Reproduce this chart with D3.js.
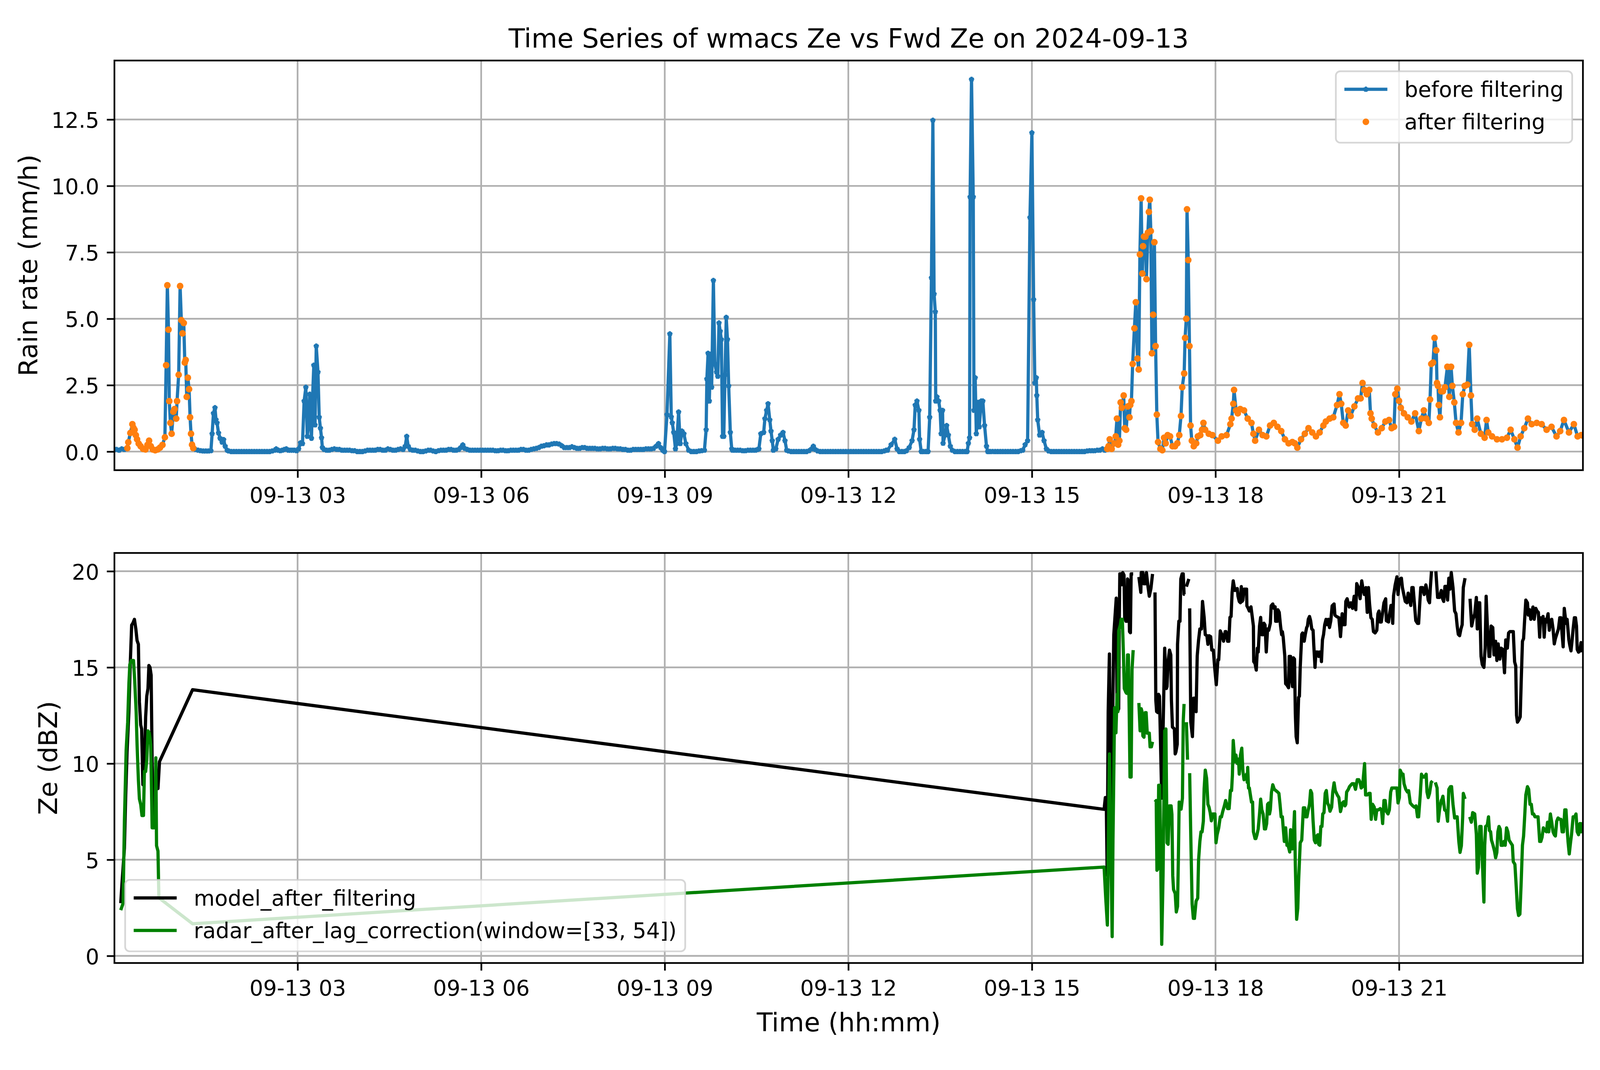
<!DOCTYPE html>
<html><head><meta charset="utf-8">
<script src="https://cdn.jsdelivr.net/npm/d3@7"></script>
<style>html,body{margin:0;padding:0;background:#fff;overflow:hidden;} svg{display:block;}</style>
</head><body>
<svg id="chart"></svg>
<script>
// ---------------- data ----------------
const titleText = "Time Series of wmacs Ze vs Fwd Ze on 2024-09-13";
const xTickHours = [3, 6, 9, 12, 15, 18, 21];
const rainTicks = [0, 2.5, 5, 7.5, 10, 12.5];
const zeTicks = [0, 5, 10, 15, 20];
const rainLabels = ["before filtering", "after filtering"];
const zeLabels = ["model_after_filtering", "radar_after_lag_correction(window=[33, 54])"];
// minutes after 00:00 where the filtered (after filtering) samples exist
const afterFilterWindows = [[13, 78], [972, 1441]];

// rain rate before filtering: [minute of day, mm/h]
const rainBefore = [
[0,0.1],[2.5,0.08],[5,0.05],[7.5,0.1],[10,0.08],[12,0.1],
[13.1,0.13],[14,0.35],[16,0.7],[18,1.03],[19,0.9],[20.2,0.82],[21.4,0.62],[22.6,0.46],[24.2,0.3],[26.1,0.2],[28.5,0.1],[30.9,0.08],[32.8,0.25],[34.4,0.41],[36.1,0.2],[38,0.08],[40.4,0.05],[42.8,0.08],[45.1,0.15],[47.5,0.25],[49.9,0.54],
[51.1,3.25],[52.3,6.26],[53.4,4.59],[54.2,1.9],[55.3,1.08],[56.5,0.67],[58.2,1.5],[59.4,1.6],[61,1.24],[61.8,1.9],[63.4,2.89],[64.8,6.23],[66,4.95],[67.2,4.45],[68.4,4.84],[69.4,3.35],[70.3,3.45],[71.3,2.06],[72.4,2.78],[73.6,2.35],[74.6,1.29],[75.5,0.67],[76.5,0.26],[77.7,0.13],
[80,0.08],[82.5,0.05],[85,0.03],[87.5,0.02],[90,0.02],[92.5,0.02],[95,0.03],
[96.2,0.67],[97.5,1.44],[99,1.65],[100,1.2],[101,1.08],[102.5,0.7],[104,0.5],[106,0.35],[107.5,0.45],[109,0.2],[111,0.05],
[112.5,0.02],[115,0],[117.5,0],[120,0],[122.5,0],[125,0],[127.5,0],[130,0],[132.5,0],[135,0],[137.5,0],[140,0],[142.5,0],[145,0],[147.5,0],[150,0],[152.5,0],[155,0.02],[157.5,0.05],
[159,0.1],[161,0.05],[163,0.03],[165,0.05],[167,0.08],[169,0.1],[171,0.05],[173,0.05],[175,0.05],[177,0.05],[179,0.03],[181,0.1],
[182.9,0.33],[184.8,0.3],[186.4,1.9],[188.1,2.42],[189.5,0.57],[190.7,1.0],[191.9,2.16],[193.6,0.5],[194.8,2.16],[195.9,3.25],[197.1,1.0],[198.3,3.97],[200,2.99],[201.2,1.29],[202.4,0.88],[203.5,0.52],[204.3,0.15],
[206,0.08],[208.5,0.05],[211,0.05],[213.5,0.08],[216,0.1],[218.5,0.08],[221,0.08],[223.5,0.05],[226,0.05],[228.5,0.05],[231,0.05],[233.5,0.03],[236,0.03],[238.5,0],[241,0],[243.5,0],[246,0.02],[248.5,0.05],[251,0.05],[253.5,0.05],[256,0.05],[258.5,0.08],[261,0.08],[263.5,0.05],[266,0.05],[268.5,0.1],[271,0.08],[273.5,0.05],[276,0.05],[278.5,0.08],[281,0.1],[283.5,0.08],[285.5,0.2],[287,0.57],[288.5,0.2],[290.5,0.08],[293,0.05],[295.5,0.05],[298,0.02],[300.5,0],[303,0],[305.5,0.02],[308,0.05],[310.5,0.05],[313,0.02],[315.5,0],[318,0.03],[320.5,0.05],[323,0.05],[325.5,0.05],[328,0.08],[330.5,0.08],[333,0.05],[335.5,0.05],[338,0.08],[340,0.15],[342,0.25],[344,0.12],[346.5,0.08],[349,0.05],[351.5,0.05],[354,0.05],[356.5,0.05],[359,0.05],
[361.5,0.05],[364,0.05],[366.5,0.05],[369,0.05],[371.5,0.05],[374,0.03],[376.5,0.03],[379,0.05],[381.5,0.05],[384,0.03],[386.5,0.03],[389,0.05],[391.5,0.05],[394,0.05],[396.5,0.05],[399,0.08],[401.5,0.08],[404,0.05],[406.5,0.05],[409,0.08],[411.5,0.1],[414,0.12],[416.5,0.15],[419,0.2],[421.5,0.22],[424,0.25],[426.5,0.25],[429,0.28],[431.5,0.3],[434,0.3],[436.5,0.28],[439,0.22],[441.5,0.15],[444,0.15],[446.5,0.15],[449,0.18],[451.5,0.15],[454,0.12],[456.5,0.12],[459,0.15],[461.5,0.15],[464,0.12],[466.5,0.12],[469,0.12],[471.5,0.12],[474,0.1],[476.5,0.1],[479,0.12],[481.5,0.12],[484,0.1],[486.5,0.1],[489,0.12],[491.5,0.12],[494,0.1],[496.5,0.1],[499,0.08],[501.5,0.08],[504,0.05],[506.5,0.05],[509,0.08],[511.5,0.08],[514,0.08],[516.5,0.08],[519,0.08],[521.5,0.1],[524,0.1],[526.5,0.1],[529,0.12],[531.5,0.2],[533.9,0.3],[536,0.15],[538,0.05],[539.8,0],
[542.2,1.39],[545,4.43],[546.4,1.3],[547.4,1.08],[548.8,0.72],[550.5,0.1],[551.7,0.3],[553.6,1.49],[555.2,0.3],[556.9,0.77],[558.8,0.67],[560.7,0.3],[563.5,0.05],[566,0],[568.5,0],[571,0],[573.5,0.02],[576,0.03],[578.9,0.05],
[580.6,0.82],[581.3,2.73],[582.5,3.7],[583.7,1.9],[584.9,3.66],[586,2.42],[587.7,6.44],[589.1,3.3],[590.8,2.99],[592,2.83],[593.2,4.84],[594.4,4.53],[595.5,4.22],[596.7,0.57],[597.9,0.57],[599.1,2.89],[600.3,5.05],[601.5,4.22],[602.7,2.47],[604.3,0.72],[605.7,0.1],
[606.5,0.05],[609,0.05],[611.5,0.05],[614,0.05],[616.5,0.03],[619,0.03],[621.5,0.05],[624,0.05],[626.5,0.05],[629,0.05],[631,0.08],[632.3,0.1],
[634.2,0.67],[637,0.72],[638.2,1.24],[639.9,1.55],[641.3,1.8],[643,1.19],[644.2,0.77],[645.4,0.41],[646.5,0.05],[648.9,0.1],[651.2,0.46],[653.6,0.62],[656,0.72],[657.9,0.41],[659.6,0.05],
[661.5,0.02],[664,0],[666.5,0],[669,0],[671.5,0],[674,0],[676.5,0],[679,0],[681.5,0.03],[684,0.1],[685.7,0.2],[687.5,0.08],[690,0.02],[692.5,0],[695,0],[697.5,0],[700,0],[702.5,0],[705,0],[707.5,0],[710,0],[712.5,0],[715,0],[717.5,0],[720,0],[722.5,0],[725,0],[727.5,0],[730,0],[732.5,0],[735,0],[737.5,0],[740,0],[742.5,0],[745,0],[747.5,0],[750,0],[752.5,0],[755,0.02],[757,0.05],
[758.4,0.05],[762,0.26],[765.5,0.46],[767.8,0.1],[770,0],[772.5,0],[775,0],[777,0.03],[779.7,0.15],[782.5,0.41],[784.4,0.82],[785.6,1.75],[787.3,1.9],[789.2,1.55],[789.9,0.46],[791.5,0],[793.5,0],[796,0],[798.2,0],
[799.8,1.29],[801.5,6.54],[802.9,12.47],[804.1,5.93],[805.3,5.26],[805.7,1.9],[806.9,2.06],[808.6,1.9],[810,1.55],[811,0.67],[812.4,1.55],[812.9,0.31],[814.8,0.62],[816.4,0.98],[818.1,0.62],[820,0.2],[822,0.05],[824.5,0],[827,0],[829.5,0],[832,0],[834.5,0],[836.5,0],
[837.7,0.31],[838.9,0.52],[839.4,9.58],[840.8,14.01],[842.5,9.58],[843.2,1.55],[844.4,2.78],[845.5,0.67],[847.2,1.85],[848.4,0.93],[850.3,1.9],[851.9,1.9],[853.6,0.98],[855.5,0.2],[856.7,0],
[859,0],[861.5,0],[864,0],[866.5,0],[869,0],[871.5,0],[874,0],[876.5,0],[879,0],[881.5,0],[884,0],[886.5,0],[889,0.03],[891,0.05],
[893.4,0.26],[895.8,0.41],[898.1,8.81],[900,12.0],[901.7,5.72],[902.9,2.58],[904.3,2.78],[904.8,2.11],[905.7,1.19],[907.6,0.62],[910,0.72],[911.9,0.41],[914.2,0.1],
[916.5,0.02],[919,0],[921.5,0],[924,0],[926.5,0],[929,0],[931.5,0],[934,0],[936.5,0],[939,0],[941.5,0],[944,0],[946.5,0],[949,0],[951.5,0],[954,0.02],[956.5,0.03],[959,0.03],[961.5,0.03],[964,0.05],[966.5,0.05],[969.2,0.1],[971.5,0.05],
[973.9,0.1],[975.1,0.2],[976.3,0.46],[978.2,0.1],[981,0.31],[982.2,0.57],[983.4,1.24],[984.6,0.26],[985.8,0.41],[987,1.85],[988.2,1.65],[990,2.11],[991,0.88],[992.4,0.82],[994.1,1.7],[995.7,1.29],[996.4,1.75],[997.6,1.9],[998.8,3.3],[1000.5,4.64],[1001.9,5.62],[1003.5,3.5],[1004.7,3.09],[1005.9,7.42],[1007.1,9.53],[1008.3,6.7],[1009,7.73],[1009.9,8.09],[1011.3,8.09],[1012.3,6.49],[1013.7,8.24],[1014.7,9.02],[1015.6,9.48],[1016.6,8.3],[1017.7,3.7],[1018.9,5.15],[1020.1,7.88],[1021.3,3.97],[1022.5,1.39],[1023.7,0.36],[1026,0.1],[1027.9,0.05],[1029.6,0.52],[1031.2,0.31],[1033.1,0.62],[1035.5,0.57],[1037.9,0.2],[1040.3,0.2],[1042.6,0.31],[1044.5,0.62],[1046.2,1.34],[1047.4,2.42],[1049.3,2.94],[1050.2,4.28],[1051.4,5.0],[1052.1,9.12],[1053.3,7.21],[1054.5,3.97],[1055.6,0.98],[1056.8,0.41],[1058.7,0.2],[1061.1,0.31],[1062.7,0.57],[1065.1,0.62],[1066.8,0.82],[1068.2,1.08],[1069.9,0.82],[1073.4,0.67],[1077,0.62],
[1082.4,0.41],[1086.1,0.57],[1090.9,0.62],[1094.6,1.03],[1095.8,1.24],[1097.5,1.8],[1098.2,2.32],[1100.2,1.55],[1101.9,1.44],[1104.3,1.6],[1108,1.55],[1111.6,1.24],[1115.3,1.08],[1117.2,0.67],[1118.9,0.41],[1122.6,0.82],[1126.2,0.62],[1129.9,0.57],[1133.5,0.98],[1137.2,1.08],[1140.8,0.93],[1144.5,0.77],[1148.1,0.46],[1151.7,0.31],[1155.4,0.36],[1157.8,0.31],[1160.3,0.15],[1163.9,0.46],[1167.6,0.67],[1171.2,0.88],[1174.9,0.72],[1178.5,0.57],[1182.1,0.72],[1185.8,0.98],[1188.2,1.13],[1191.9,1.24],[1195.5,1.29],[1199.2,1.75],[1201.6,2.16],[1203.3,1.8],[1205.3,1.08],[1207.7,0.98],[1210.1,1.55],[1212.5,1.34],[1216.2,1.7],[1219.8,2.0],[1222.3,2.0],[1224.2,2.58],[1225.9,2.32],[1228.4,2.16],[1230.8,2.32],[1232,1.44],[1233.2,1.24],[1235.7,0.98],[1239.3,0.72],[1243,0.88],[1246.6,1.13],[1250.2,1.19],[1252.7,0.88],[1255.1,0.93],[1256.3,2.16],[1258.3,2.37],[1260,1.91],[1261.7,1.65],[1264.8,1.44],[1268.5,1.29],[1272.1,1.13],[1275.8,1.44],[1279.4,0.77],[1281.9,1.24],[1284.3,1.55],[1286.7,1.24],[1289.2,1.08],[1290.4,1.96],[1291.6,3.3],[1293.3,3.35],[1294.8,4.28],[1296.5,3.81],[1297.2,2.58],[1298.2,2.47],[1298.9,1.75],[1300.1,1.29],[1301.3,2.27],[1303,2.27],[1305,2.42],[1307.4,3.19],[1309.3,2.06],[1311,3.19],[1312.3,2.47],[1314.2,1.85],[1315.9,1.08],[1318.3,0.72],[1320.8,1.08],[1322.5,2.16],[1324.4,2.47],[1326.9,2.52],[1328.8,4.02],[1330.5,2.11],[1331.7,1.03],[1334.2,0.82],[1336.6,1.24],[1340.2,0.67],[1343.9,0.52],[1345.8,1.19],[1347.5,0.72],[1351.2,0.57],[1356,0.46],[1360.9,0.46],[1365.8,0.52],[1369.4,0.82],[1373.1,0.46],[1376.2,0.15],[1379.2,0.57],[1382.8,0.88],[1386.4,1.24],[1390.1,1.03],[1395,1.08],[1399.8,1.03],[1404.7,0.82],[1409.5,0.93],[1414.4,0.57],[1418,0.77],[1421.7,1.19],[1426.6,0.72],[1431.4,1.03],[1435.1,0.57],[1438.7,0.62],[1440.2,0.6]
];

// model Ze (dBZ): [minute, value]; null = missing
const modelZe = [
[6.6,2.74],[7.8,3.74],[10.2,5.6],[11.4,8.2],[12.8,10.6],[14.6,12.7],[16,15.3],[17.3,17.2],[18.5,17.3],[20,17.5],[21.4,17.0],[22.6,16.4],[23.9,16.2],[24.9,13.2],[26.2,12.0],[27.1,11.8],[28.3,8.9],[29.8,9.87],[31,12.4],[32.1,13.5],[33.3,13.9],[34.2,15.1],[35.3,15.0],[36.4,14.6],[37.4,10.0],[38.7,6.95],[39.9,6.8],[41.3,8.9],[43.1,8.7],[44.6,10.1],
[77,13.84],
[970.8,7.62],[972,8.23],[972.9,8.23],[973.8,4.2],[974.8,12.7],[976,15.7],[977.6,6.0],[980.3,16.7],[982.7,18.6],[983.5,13.0],[984,12.7],[985.1,12.85],[985.6,17.0],[986.2,19.86],[987.5,19.86],[988.3,19.3],[989.1,19.93],[990.3,19.8],[991,17.6],[992.2,17.4],[993,17.4],[993.8,19.6],[994.6,19.5],[995.7,16.86],[996.6,16.8],[997.3,19.86],[999.3,19.86],
[1001.5,null],
[1004.9,19.7],[1006.8,18.9],[1007.2,19.93],[1008.8,19.93],[1009.6,19.35],[1011.2,19.35],[1012.3,19.93],[1013.6,19.3],[1015.1,18.7],[1016.7,19.1],[1018.3,19.86],
[1019.5,null],
[1020.7,18.9],[1021.5,13.3],[1022.3,12.7],[1023.5,12.65],[1024.2,13.6],[1025.1,13.5],[1027.3,8.2],[1030.2,16.0],[1031.8,13.9],[1032.5,14.0],[1033.6,15.3],[1034.9,15.9],[1036.2,15.65],[1036.8,13.3],[1037.8,11.9],[1039.7,11.8],[1040.5,10.5],[1041.2,10.6],[1042.5,11.0],[1042.8,16.2],[1044.1,17.4],[1045.2,17.4],[1046,19.6],[1047.3,19.86],[1048.4,19.86],[1049.2,18.8],[1049.9,18.8],
[1050.7,null],
[1051.5,19.2],[1053.9,19.6],
[1054.3,null],
[1054.7,18.07],[1055.8,12.15],[1057.4,11.4],[1058.6,13.4],[1060.2,13.4],[1061,12.7],[1062.1,15.6],[1063.4,16.4],[1064.7,17.0],[1066.2,17.0],[1067.3,18.43],[1068.9,17.6],[1070,16.7],[1071.6,16.65],[1072.6,16.2],[1073.7,16.65],[1075.3,16.6],[1076.4,15.9],[1077.9,15.9],[1079.2,15.0],[1080.8,14.1],[1082.4,15.4],[1083.2,15.4],[1084.7,16.9],[1086.3,16.7],[1087.9,16.36],[1089.5,16.86],[1090.3,16.86],[1091.9,16.36],[1093.1,16.36],[1094.2,17.6],[1095.3,17.65],[1096.3,18.9],[1097.4,19.5],[1099,19.0],[1100.1,19.07],[1101.4,19.1],[1102.1,18.7],[1103.3,18.43],[1104.5,18.36],[1105.3,19.2],[1106.1,18.43],[1106.9,18.5],[1108,19.07],[1109.3,19.07],[1110.5,19.07],[1110.8,18.2],[1112.1,18.07],[1113.2,17.93],[1114.8,18.15],[1115.9,17.7],[1117.2,17.15],[1117.5,15.3],[1118.8,15.2],[1120,14.86],[1121.1,16.0],[1121.9,15.8],[1123.2,17.15],[1124.3,17.6],[1125.4,16.7],[1126.7,16.7],[1127.5,17.3],[1128.6,17.2],[1129.8,15.8],[1131.1,17.0],[1132.2,16.93],[1133.8,17.3],[1134.6,18.2],[1136.2,18.3],[1137.4,18.07],[1138.5,18.15],[1139,17.4],[1140.6,17.4],[1141.2,18.0],[1142.5,17.86],[1143.8,17.15],[1144.9,16.7],[1145.6,16.86],[1146.4,16.57],[1148,15.57],[1148.8,14.15],[1150.1,14.08],[1151.7,13.94],[1152.3,15.57],[1153.6,15.57],[1154.4,14.44],[1155.5,14.0],[1156.4,15.5],[1157.5,15.43],[1158.3,12.6],[1159.1,11.4],[1160.2,11.08],[1161.5,13.44],[1162.3,13.5],[1163.1,15.0],[1164.6,16.72],[1165.4,16.79],[1167,16.36],[1168.1,16.72],[1169.4,17.07],[1170.2,17.15],[1171,17.5],[1172.2,17.65],[1173.3,17.43],[1174.4,17.0],[1175.7,16.93],[1176.4,16.15],[1177.6,15.0],[1178.5,15.8],[1180.1,15.8],[1181.2,15.57],[1182,15.8],[1183.3,15.8],[1183.9,15.3],[1184.9,16.43],[1186,16.72],[1187.1,17.22],[1188.4,17.5],[1189.6,17.22],[1190.7,17.5],[1191.8,17.07],[1193.1,17.43],[1194.4,18.2],[1196.3,18.3],[1197.1,17.72],[1198.6,17.65],[1201,17.58],[1202.6,16.6],
[1204.2,17.79],[1205.3,17.22],[1207,17.22],[1207.8,18.43],[1209.1,18.57],[1211.1,18.14],[1212.7,18.36],[1214.4,18.07],[1216,18.7],[1217.6,18.0],[1218.5,19.36],[1220.1,19.15],[1221.8,18.57],[1223.4,19.5],[1224.5,19.15],[1225.9,18.79],[1227.5,19.15],[1228.8,17.86],[1230,19.15],[1231.1,18.29],[1232.4,17.58],[1233.7,17.5],[1234.9,16.86],[1236.5,16.79],[1238.2,16.93],[1239.3,17.79],[1240.3,17.93],[1241.5,17.36],[1242.6,17.36],[1243.9,17.86],[1245.2,18.36],[1246.9,18.57],[1247.5,17.43],[1249.7,17.36],[1250.5,17.72],[1252.1,18.22],[1252.9,18.22],[1253.8,17.29],[1254.6,18.72],[1256.2,19.29],[1257.9,19.71],[1259,18.79],[1260.3,19.57],[1262.3,19.64],[1263.3,19.15],[1264.4,18.86],[1266.1,18.43],[1267.7,18.36],[1268.9,18.86],[1270.2,18.5],[1271.5,18.22],[1272.6,19.15],[1273.8,19.15],[1275.1,18.29],[1276.4,17.43],[1278.1,17.29],[1279.2,17.29],[1280,18.07],[1281.3,19.15],[1283,19.15],[1284.6,18.79],[1286.3,19.29],[1287.4,19.0],[1288.6,18.5],[1289.9,18.36],[1290.7,19.15],[1291.8,20.0],
[1294,null],
[1296.1,20.0],[1297.8,18.64],[1299.7,18.64],[1301.4,19.0],[1302.7,18.57],[1303.8,18.43],[1305,19.21],[1306.3,19.21],[1307.6,18.5],[1308.8,19.64],[1309.9,19.07],[1311.2,19.93],[1312.9,19.15],[1314.5,17.93],[1315.8,17.79],[1317,17.15],[1318.1,16.72],[1319.4,16.65],[1320.7,17.0],[1321.9,17.22],[1323,19.15],[1324.7,19.64],
[1327,null],
[1329.6,18.57],[1331.2,17.15],[1332.6,17.5],[1334.2,17.79],[1335.8,18.64],[1336.7,17.0],[1337.8,18.36],[1339.1,18.36],[1340.4,15.57],[1341.6,15.15],[1343.2,15.0],[1344.4,16.0],[1345.4,18.7],[1346.5,17.29],[1348.2,15.57],[1349,15.57],[1350.3,17.15],[1351.9,17.07],[1353.1,15.65],[1354.7,16.36],[1355.9,15.36],[1357.2,16.22],[1358.8,15.43],[1360.1,16.0],[1361.8,15.93],[1363.4,14.72],[1364.6,16.43],[1366.2,16.0],[1367.4,16.79],[1368.7,16.86],[1370.3,16.86],[1372,16.86],[1373.3,15.29],[1374.4,15.08],[1375.2,12.51],[1376.1,12.15],[1377.7,12.29],[1378.8,12.43],[1379.8,14.3],[1381,16.36],[1382.1,16.5],[1383.1,17.43],[1384.3,18.5],[1385.9,18.36],[1386.7,17.72],[1388,18.0],[1389.2,17.5],[1390.3,17.86],[1391.3,18.14],[1392.5,17.5],[1394.1,18.07],[1395.3,17.93],[1396.6,17.86],[1397.9,16.57],[1398.6,17.58],[1399.9,17.43],[1401.2,17.65],[1402.3,16.57],[1403.5,17.5],[1404.5,17.36],[1406.1,17.79],[1407.3,16.93],[1408.4,17.43],[1409.7,17.5],[1411,17.0],[1412.2,16.22],[1413.3,16.5],[1414.6,16.72],[1416.3,17.0],[1417.6,17.58],[1418.7,17.58],[1419.9,16.72],[1420.9,16.07],[1422,18.07],[1423.7,17.29],[1424.8,17.5],[1425.8,16.86],[1426.5,16.43],[1427.4,16.15],[1428.6,15.86],[1429.7,16.43],[1430.7,17.0],[1431.9,17.58],[1433,17.58],[1434,17.15],[1434.7,15.93],[1436,15.79],[1437.3,15.86],[1438.4,16.29],[1439.6,15.79]
];

// radar Ze after lag correction (dBZ): [minute, value]; null = missing
const radarZe = [
[6.6,2.38],[8.9,2.74],[10.2,7.0],[11,8.7],[11.9,10.7],[13.4,12.15],[14.6,14.15],[15.5,15.15],[16.9,15.36],[19.1,15.36],[20.3,14.3],[21.7,12.7],[22.6,11.0],[23.9,9.16],[24.9,8.16],[26.2,7.87],[27.4,7.3],[28.9,7.3],[29.8,9.59],[31,9.59],[32.1,10.16],[33.3,11.7],[34.6,11.6],[36,11.0],[37.4,6.66],[39.2,6.66],[40.3,6.9],[41,10.3],[41.7,5.73],[43.1,5.45],[44,3.02],
[77,1.67],
[970.8,4.62],[972.4,3.0],[974,1.6],[976,10.5],[978.7,1.0],[979.5,6.0],[981.1,12.9],[982.4,11.6],[983.5,13.6],[984.3,12.7],[985.1,16.9],[986.7,17.2],[987.5,17.5],[988.7,17.5],[989.8,15.6],[990.6,13.9],[992.2,13.7],[993,13.65],[993.8,15.65],[994.6,15.65],[995.4,12.7],[996.2,9.3],[997.3,9.3],[998.2,14.9],[999.3,15.9],
[1001.5,null],
[1004.9,13.15],[1006.1,11.7],[1007.2,12.85],[1008,12.7],[1008.8,11.44],[1009.9,11.37],[1011.2,12.65],[1012,12.65],[1013.1,11.58],[1014.3,11.58],[1015.1,11.58],[1015.9,10.87],[1017.2,10.87],[1018.3,11.13],
[1019.5,null],
[1020.7,8.0],[1021.9,8.08],[1022.6,4.45],[1023.5,4.52],[1024.3,8.87],[1025.4,8.87],[1027.3,0.6],[1028.6,4.17],[1030.2,11.7],[1031.4,11.8],[1032.5,5.88],[1033.6,5.8],[1034.9,7.8],[1036.5,7.8],[1037.3,7.36],[1038.1,4.17],[1038.9,3.45],[1040.5,3.24],[1041.6,2.28],[1042.8,2.57],[1043.6,5.0],[1044.4,8.0],[1045.2,7.7],[1046.3,7.63],[1047.6,8.2],[1048.4,12.2],[1049.2,13.1],
[1050.4,null],
[1051.5,12.15],[1052.6,10.2],
[1053.6,null],
[1054.7,9.5],[1055.8,6.2],[1057.1,2.7],[1058.3,1.95],[1059.4,1.95],[1061,2.85],[1062.6,3.0],[1063.4,4.95],[1064.7,5.95],[1065.8,6.45],[1066.9,6.45],[1068.1,7.0],[1068.9,8.7],[1070,9.66],[1071.3,9.23],[1072.6,7.88],[1073.7,7.73],[1074.8,7.45],[1076,7.02],[1077.3,7.38],[1078.4,7.38],[1079.5,7.38],[1080.5,5.88],[1081.6,6.3],[1083.2,6.66],[1084.7,7.23],[1085.9,7.23],[1087.1,7.5],[1088.7,7.8],[1090,8.08],[1091.9,7.66],[1093.4,7.66],[1094.7,8.6],[1095.8,8.6],[1096.6,9.4],[1097.4,11.2],[1099,10.09],[1100.1,10.44],[1101.4,10.0],[1102.6,10.23],[1103.3,9.45],[1104.5,10.44],[1105.8,10.8],[1106.9,9.6],[1108,9.16],[1109.3,9.23],[1110.5,9.45],[1111.2,9.02],[1111.6,9.8],[1112.4,8.73],[1113.2,8.73],[1114,8.45],[1115.3,8.0],[1116.4,8.0],[1117.2,6.45],[1118.8,6.1],[1119.6,6.1],[1120.7,6.3],[1121.9,6.6],[1123.2,7.38],[1124.3,8.15],[1125.4,7.6],[1126.7,7.38],[1128,6.6],[1129.1,6.6],[1130.2,6.88],[1131.1,7.88],[1132.2,7.95],[1133,7.38],[1133.8,7.6],[1134.9,8.5],[1136.2,8.9],[1137.7,8.66],[1139.3,8.59],[1140.9,8.52],[1142.2,8.45],[1143.3,7.88],[1144.4,7.23],[1145.6,7.23],[1146.4,6.66],[1147.5,5.95],[1148.8,6.66],[1150.1,5.75],[1151.2,5.75],[1152.8,5.4],[1153.6,6.56],[1154.4,6.06],[1155.2,5.56],[1156.4,6.28],[1157.5,7.5],[1158.3,4.71],[1159.6,1.9],[1160.7,2.47],[1161.5,3.88],[1163.1,5.88],[1164.6,6.02],[1166.2,7.7],[1167.5,7.7],[1168.6,7.23],[1169.7,7.23],[1170.7,7.52],[1172.2,7.88],[1173.3,8.6],[1174.4,8.45],[1175.7,7.02],[1176.9,6.02],[1178.1,5.88],[1179.2,6.23],[1180.5,6.3],[1181.2,5.8],[1182.3,5.75],[1183.3,6.73],[1184.4,6.73],[1185.2,7.38],[1186.4,7.45],[1187.6,8.45],[1188.7,8.6],[1189.9,7.95],[1191.2,7.8],[1192.3,7.52],[1193.9,7.73],[1195,8.52],[1196.3,9.0],[1197.5,8.59],[1199.4,8.37],[1201,8.23],[1202.6,7.5],
[1204.5,7.95],[1205.8,8.02],[1207,7.8],[1207.8,7.88],[1208.6,8.52],[1210.3,8.66],[1211.4,8.8],[1212.7,8.88],[1214,8.95],[1215.7,8.95],[1217.3,8.66],[1219,9.16],[1220.6,9.16],[1221.8,9.02],[1222.9,8.73],[1224.2,8.8],[1226.2,10.0],[1227.2,8.37],[1228.8,8.37],[1230.5,8.45],[1231.6,8.45],[1232.7,7.1],[1234.1,7.88],[1235.7,7.73],[1237,7.1],[1238.2,7.59],[1239.8,7.59],[1241.5,7.66],[1242.8,7.59],[1243.9,6.88],[1245.2,8.08],[1246.4,8.08],[1247.5,7.52],[1249.2,7.38],[1250.5,7.59],[1251.8,8.52],[1252.9,8.73],[1254.6,8.73],[1256.2,8.73],[1257.9,8.73],[1259,7.95],[1260.3,8.23],[1261.1,9.66],[1262.8,9.45],[1263.9,9.45],[1264.9,8.95],[1266.6,8.66],[1268.2,8.52],[1269.4,8.59],[1271,7.95],[1272.1,7.88],[1273.5,7.8],[1275.1,7.73],[1276.7,7.8],[1278.1,7.23],[1279.2,7.23],[1280.8,8.37],[1282,9.45],[1283.3,9.3],[1285,9.3],[1286.6,9.45],[1287.4,8.52],[1288.6,8.23],[1289.9,8.45],[1291.5,9.02],[1292.8,9.1],
[1294,null],
[1295.6,9.02],[1297.3,8.73],[1298.4,7.0],[1299.7,7.59],[1301.4,8.08],[1302.2,8.16],[1303,8.3],[1304.7,7.59],[1306.3,7.52],[1307.6,7.0],[1308.8,8.66],[1310.4,8.8],[1311.5,8.8],[1312.9,7.88],[1314.5,7.17],[1315.8,7.23],[1317,7.23],[1318.6,5.95],[1319.8,5.38],[1321.1,5.73],[1322.4,7.23],[1323,8.45],[1324.7,8.16],
[1327,null],
[1329.3,7.23],[1330.9,6.95],[1332.2,7.45],[1334.2,7.38],[1335.8,6.3],[1336.7,4.3],[1337.8,4.59],[1339.1,6.73],[1340.4,6.73],[1341.6,5.02],[1343.2,2.8],[1344,5.73],[1344.9,6.73],[1346.5,6.8],[1347.7,7.23],[1348.6,6.52],[1349.8,6.45],[1350.6,6.02],[1351.9,5.8],[1353.6,5.45],[1354.7,5.1],[1355.9,5.38],[1356.9,6.45],[1358,6.73],[1359.2,6.59],[1360.1,5.75],[1361.8,5.75],[1362.9,5.95],[1364.1,5.75],[1365.4,6.66],[1366.7,6.45],[1367.9,6.02],[1369.5,5.88],[1371.1,5.75],[1372,4.9],[1373.6,4.76],[1374.9,3.6],[1376.1,2.45],[1377.2,2.1],[1378.5,2.17],[1379.8,3.88],[1381,5.75],[1382.1,6.23],[1383.1,7.17],[1384.3,8.37],[1385.9,8.8],[1387.1,8.66],[1388.4,7.88],[1389.7,7.88],[1390.8,7.38],[1392,7.38],[1393.3,7.23],[1394.6,7.23],[1396.3,7.23],[1397.9,5.95],[1399,5.95],[1400.2,6.16],[1401.5,6.66],[1403.1,6.52],[1404.5,6.45],[1405.6,6.95],[1406.8,6.45],[1408.4,7.38],[1409.7,6.95],[1411,6.45],[1412.2,6.3],[1413.3,6.23],[1414.6,7.0],[1415.9,7.17],[1417.6,7.1],[1418.7,7.1],[1419.9,6.45],[1421.2,6.45],[1422.5,7.59],[1423.7,7.59],[1424.8,6.59],[1425.8,5.88],[1426.9,5.3],[1428.1,5.88],[1429.1,6.3],[1430.7,7.23],[1432.3,7.23],[1433.5,7.38],[1434.7,6.45],[1436,6.3],[1437.3,6.88],[1438.4,6.45],[1439.6,6.95]
];

// ---------------- layout (figure-relative, like a matplotlib figure) ----------------
const VW = window.innerWidth || 5062, VH = window.innerHeight || 2740;
const sx = VW / 5062, sy = VH / 2740, s = Math.min(sx, sy);
const FONT = "DejaVu Sans, Liberation Sans, sans-serif";
const L = 362 * sx, R = 5008 * sx;
const P1 = {top: 155 * sy, bottom: 1204 * sy};
const P2 = {top: 1416 * sy, bottom: 2466 * sy};
const TICKFS = 68 * s, LABELFS = 82 * s, TITLEFS = 84 * s;
const LW = 5.4 * s;            // spine / tick / grid width
const DLW = 10.2 * s;          // data line width
const GRID = "#b0b0b0";

const svg = d3.select("#chart").attr("width", VW).attr("height", VH);
svg.append("rect").attr("width", VW).attr("height", VH).attr("fill", "#fff");
const defs = svg.append("defs");

const day = new Date(2024, 8, 13, 0, 0, 0);
const toDate = m => new Date(day.getTime() + m * 60000);
const x = d3.scaleTime().domain([toDate(0.4), toDate(1440.3)]).range([L, R]);
const y1 = d3.scaleLinear().domain([-0.70, 14.72]).range([P1.bottom, P1.top]);
const y2 = d3.scaleLinear().domain([-0.37, 20.95]).range([P2.bottom, P2.top]);
const xTicks = xTickHours.map(h => toDate(h * 60));
const fmtX = d3.timeFormat("%m-%d %H");

function panelFrame(P, y, yTicks, clipId) {
  const g = svg.append("g");
  g.selectAll("line.gx").data(xTicks).join("line")
    .attr("x1", d => x(d)).attr("x2", d => x(d))
    .attr("y1", P.top).attr("y2", P.bottom)
    .attr("stroke", GRID).attr("stroke-width", LW);
  g.selectAll("line.gy").data(yTicks).join("line")
    .attr("x1", L).attr("x2", R)
    .attr("y1", d => y(d)).attr("y2", d => y(d))
    .attr("stroke", GRID).attr("stroke-width", LW);
  defs.append("clipPath").attr("id", clipId).append("rect")
    .attr("x", L).attr("y", P.top).attr("width", R - L).attr("height", P.bottom - P.top);
}

function panelAxes(P, y, yTicks, yFmt) {
  const ax = svg.append("g").attr("transform", `translate(0,${P.bottom})`)
    .call(d3.axisBottom(x).tickValues(xTicks).tickFormat(fmtX).tickSize(24 * s).tickPadding(24 * s));
  ax.select(".domain").remove();
  ax.selectAll(".tick line").attr("stroke", "#000").attr("stroke-width", LW);
  ax.selectAll(".tick text").attr("dy", null).attr("y", 102 * s)
    .attr("font-size", TICKFS).attr("font-family", FONT).attr("fill", "#000");
  const ay = svg.append("g").attr("transform", `translate(${L},0)`)
    .call(d3.axisLeft(y).tickValues(yTicks).tickFormat(yFmt).tickSize(24 * s).tickPadding(24 * s));
  ay.select(".domain").remove();
  ay.selectAll(".tick line").attr("stroke", "#000").attr("stroke-width", LW);
  ay.selectAll(".tick text").attr("dy", "0.375em")
    .attr("font-size", TICKFS).attr("font-family", FONT).attr("fill", "#000");
  svg.append("rect").attr("x", L).attr("y", P.top).attr("width", R - L).attr("height", P.bottom - P.top)
    .attr("fill", "none").attr("stroke", "#000").attr("stroke-width", LW).attr("stroke-linejoin", "miter");
}

// ---------- top panel ----------
panelFrame(P1, y1, rainTicks, "clip1");
const g1 = svg.append("g").attr("clip-path", "url(#clip1)");
const line1 = d3.line().x(d => x(toDate(d[0]))).y(d => y1(d[1]));
const BLUE = "#1f77b4", ORANGE = "#ff7f0e";
g1.append("path").attr("d", line1(rainBefore)).attr("fill", "none")
  .attr("stroke", BLUE).attr("stroke-width", DLW).attr("stroke-linejoin", "round");
const starPath = d3.symbol().type(d3.symbolStar).size(60 * s * s)();
g1.selectAll("path.star").data(rainBefore).join("path").attr("class", "star")
  .attr("transform", d => `translate(${x(toDate(d[0]))},${y1(d[1])})`)
  .attr("d", starPath).attr("fill", BLUE).attr("stroke", BLUE)
  .attr("stroke-width", 6.8 * s).attr("stroke-linejoin", "bevel");
const rainAfter = rainBefore.filter(d => afterFilterWindows.some(w => d[0] >= w[0] && d[0] <= w[1]));
g1.selectAll("circle.after").data(rainAfter).join("circle").attr("class", "after")
  .attr("cx", d => x(toDate(d[0]))).attr("cy", d => y1(d[1])).attr("r", 10.5 * s).attr("fill", ORANGE);
panelAxes(P1, y1, rainTicks, d3.format(".1f"));

// ---------- bottom panel ----------
panelFrame(P2, y2, zeTicks, "clip2");
const g2 = svg.append("g").attr("clip-path", "url(#clip2)");
const line2 = d3.line().defined(d => d[1] != null).x(d => x(toDate(d[0]))).y(d => y2(d[1]));
g2.append("path").attr("d", line2(modelZe)).attr("fill", "none")
  .attr("stroke", "#000000").attr("stroke-width", DLW).attr("stroke-linejoin", "round");
g2.append("path").attr("d", line2(radarZe)).attr("fill", "none")
  .attr("stroke", "#008000").attr("stroke-width", DLW).attr("stroke-linejoin", "round");
panelAxes(P2, y2, zeTicks, d3.format("d"));

// ---------- texts ----------
svg.append("text").attr("x", (L + R) / 2).attr("y", P1.top - 41 * s).attr("text-anchor", "middle")
  .attr("font-size", TITLEFS).attr("font-family", FONT).text(titleText);
svg.append("text").attr("transform", `translate(${L - 245 * s},${(P1.top + P1.bottom) / 2}) rotate(-90)`)
  .attr("text-anchor", "middle").attr("font-size", LABELFS).attr("font-family", FONT).text("Rain rate (mm/h)");
svg.append("text").attr("transform", `translate(${L - 181 * s},${(P2.top + P2.bottom) / 2}) rotate(-90)`)
  .attr("text-anchor", "middle").attr("font-size", LABELFS).attr("font-family", FONT).text("Ze (dBZ)");
svg.append("text").attr("x", (L + R) / 2).attr("y", P2.bottom + 216 * s).attr("text-anchor", "middle")
  .attr("font-size", LABELFS).attr("font-family", FONT).text("Time (hh:mm)");

// ---------- legends ----------
function legend(items, anchor) {
  const pad = 27 * s, hl = 136 * s, htp = 54 * s, h = 226 * s;
  const g = svg.append("g");
  const box = g.append("rect").attr("rx", 14 * s).attr("ry", 14 * s)
    .attr("fill", "#fff").attr("fill-opacity", 0.8)
    .attr("stroke", "#cccccc").attr("stroke-opacity", 0.8).attr("stroke-width", LW);
  const texts = items.map(it => g.append("text").attr("font-size", TICKFS).attr("font-family", FONT).text(it.label));
  const tw = d3.max(texts, t => t.node().getComputedTextLength());
  const w = pad + hl + htp + tw + pad;
  const bx = anchor.right != null ? anchor.right - w : anchor.left;
  const by = anchor.top != null ? anchor.top : anchor.bottom - h;
  box.attr("x", bx).attr("y", by).attr("width", w).attr("height", h);
  items.forEach((it, i) => {
    const cy = by + (57 + i * 103) * s;
    const hx0 = bx + pad, hx1 = bx + pad + hl, hc = (hx0 + hx1) / 2;
    if (it.line) g.append("line").attr("x1", hx0).attr("x2", hx1).attr("y1", cy).attr("y2", cy)
      .attr("stroke", it.color).attr("stroke-width", DLW);
    if (it.marker === "star") g.append("path").attr("transform", `translate(${hc},${cy})`).attr("d", starPath)
      .attr("fill", it.color).attr("stroke", it.color).attr("stroke-width", 6.8 * s).attr("stroke-linejoin", "bevel");
    if (it.marker === "dot") g.append("circle").attr("cx", hc).attr("cy", cy).attr("r", 10.5 * s).attr("fill", it.color);
    texts[i].attr("x", hx1 + htp).attr("y", cy + 24 * s).raise();
  });
}
legend([{label: rainLabels[0], color: BLUE, line: true, marker: "star"},
        {label: rainLabels[1], color: ORANGE, line: false, marker: "dot"}],
       {right: R - 34 * s, top: P1.top + 34 * s});
legend([{label: zeLabels[0], color: "#000000", line: true},
        {label: zeLabels[1], color: "#008000", line: true}],
       {left: L + 34 * s, bottom: P2.bottom - 37 * s});
</script>
</body></html>
